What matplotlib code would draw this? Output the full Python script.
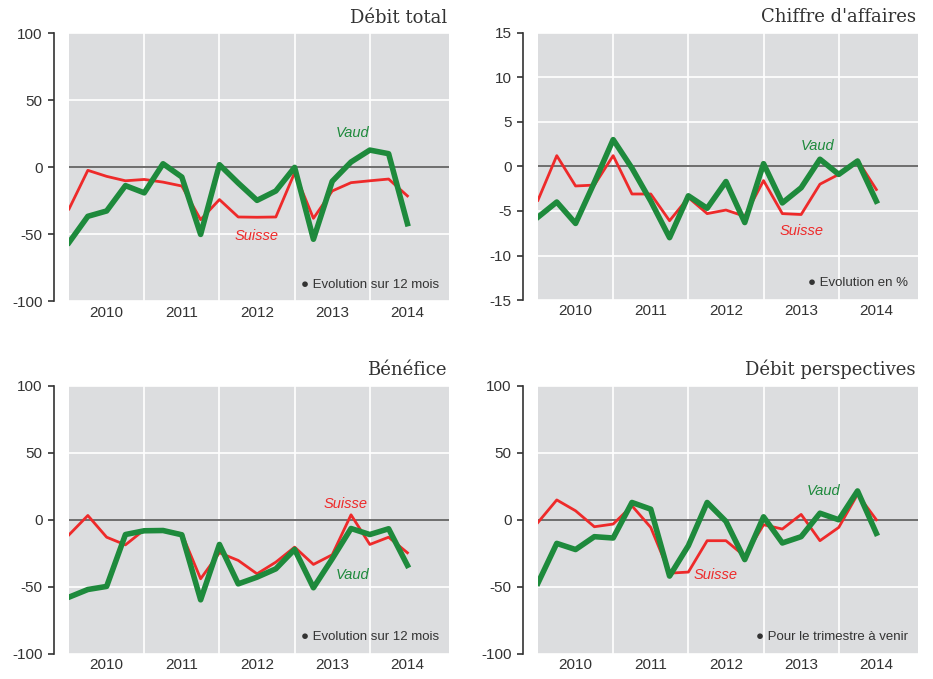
import matplotlib.pyplot as plt
import numpy as np

plt.rcParams["axes.unicode_minus"] = False

# quarters 2010 Q1 .. 2014 Q3
quarters = np.arange(19)
years = ["2010", "2011", "2012", "2013", "2014"]

debit_vaud = [-56, -36.5, -32.5, -13.6, -19, 2.7, -7.2, -50, 2, -11.7, -24.6, -17.6, 0,
              -53.6, -10.4, 4, 12.9, 10.2, -42]
debit_suisse = [-31, -2.2, -6.7, -10, -9, -11, -13.9, -39, -24, -37, -37.2, -37, -4,
                -38, -17.6, -11.4, -10, -8.7, -21.3]

ca_vaud = [-5.7, -4.0, -6.4, -1.8, 3.0, -0.2, -3.9, -8.0, -3.3, -4.7, -1.7, -6.3, 0.3,
           -4.1, -2.4, 0.8, -0.9, 0.6, -3.9]
ca_suisse = [-3.8, 1.2, -2.2, -2.1, 1.2, -3.1, -3.1, -6.1, -3.5, -5.3, -4.9, -5.6, -1.6,
             -5.3, -5.4, -2.0, -0.9, 0.7, -2.6]

benef_vaud = [-57.7, -52, -49.7, -11, -8.2, -8, -11.2, -59.7, -18.4, -47.8, -42.8, -36.6,
              -22.1, -50.7, -29.1, -6.5, -11, -6.7, -34]
benef_suisse = [-11.2, 3.2, -13, -18.7, -7.5, -8, -10.4, -44, -24.6, -30.3, -40.3, -31.6,
                -20.4, -33.3, -26.1, 3.7, -18.4, -13, -24.6]

persp_vaud = [-47.2, -17.6, -22.2, -12.6, -13.6, 12.9, 7.9, -42, -19.3, 12.9, -1.2, -29.7,
              2.2, -17.3, -12.6, 4.9, 0, 21.5, -10.1]
persp_suisse = [-2, 14.8, 6.7, -5.2, -3.2, 10.4, -5.7, -39.8, -39, -15.6, -15.6, -27.2,
                -3.7, -6.9, 4, -15.6, -5.7, 19, 0]

green = "#1e8a3c"
red = "#ee2a2a"
txt = "#333333"

panels = [
    ("Débit total", debit_vaud, debit_suisse, 100, 50, "Evolution sur 12 mois",
     (15.1, 26), (10.0, -51)),
    ("Chiffre d'affaires", ca_vaud, ca_suisse, 15, 5, "Evolution en %",
     (14.85, 2.25), (14.0, -7.3)),
    ("Bénéfice", benef_vaud, benef_suisse, 100, 50, "Evolution sur 12 mois",
     (15.1, -41.5), (14.7, 11.9)),
    ("Débit perspectives", persp_vaud, persp_suisse, 100, 50, "Pour le trimestre à venir",
     (15.2, 21.5), (9.45, -41.3)),
]

rects = [
    [0.074, 0.556, 0.407, 0.395],
    [0.5766, 0.558, 0.407, 0.394],
    [0.074, 0.037, 0.407, 0.395],
    [0.5766, 0.037, 0.407, 0.395],
]

fig = plt.figure(figsize=(9.33, 6.79), dpi=100)

for rect, (title, vaud, suisse, lim, step, note, vpos, spos) in zip(rects, panels):
    ax = fig.add_axes(rect)
    ax.set_facecolor("#dcdddf")
    ax.set_xlim(0, 20.2)
    ax.set_ylim(-lim, lim)

    for s in ["top", "right", "bottom"]:
        ax.spines[s].set_visible(False)
    ax.spines["left"].set_position(("outward", 11))
    ax.spines["left"].set_color("#333333")
    ax.spines["left"].set_linewidth(1.2)

    ax.set_yticks(np.arange(-lim, lim + step, step))
    ax.tick_params(axis="y", length=4, width=1.2, color="#333333", labelsize=11,
                   labelcolor=txt, pad=4)
    ax.set_xticks([4, 8, 12, 16])
    ax.set_xticks([2, 6, 10, 14, 18], minor=True)
    ax.set_xticklabels([])
    ax.set_xticklabels(years, minor=True)
    ax.tick_params(axis="x", which="both", length=0, labelsize=11, labelcolor=txt, pad=3)

    ax.grid(True, which="major", color="white", linewidth=1.2)
    ax.set_axisbelow(True)
    ax.axhline(0, color="#555555", linewidth=1.2, zorder=2)

    ax.plot(quarters, suisse, color=red, linewidth=2, zorder=3)
    ax.plot(quarters, vaud, color=green, linewidth=4, zorder=4)

    ax.text(vpos[0], vpos[1], "Vaud", color=green, style="italic", fontsize=10.5,
            ha="center", va="center", family="Liberation Sans")
    ax.text(spos[0], spos[1], "Suisse", color=red, style="italic", fontsize=10.5,
            ha="center", va="center", family="Liberation Sans")

    ax.text(0.975, 0.04, "\u25cf " + note, transform=ax.transAxes, ha="right",
            va="bottom", fontsize=9.5, color=txt, family="Liberation Sans")
    ax.text(0.995, 1.025, title, transform=ax.transAxes, ha="right", va="bottom",
            fontsize=13, color=txt, family="DejaVu Serif")

    for lab in ax.get_yticklabels() + ax.get_xticklabels(minor=True):
        lab.set_family("Liberation Sans")

fig.savefig("out.png", dpi=100)
